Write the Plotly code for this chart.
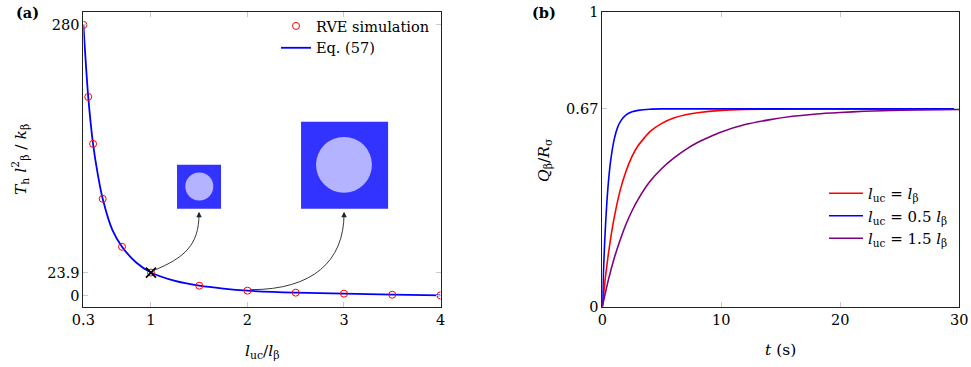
import plotly.graph_objects as go

# ---------------- data ----------------
# Panel (a)
rve_x = [0.3, 0.35, 0.4, 0.5, 0.7, 1.0, 1.5, 2.0, 2.5, 3.0, 3.5, 4.0]
rve_y = [280, 205.6, 157, 100.2, 50.6, 23.9, 10.3, 5.2, 3.1, 2.1, 1.0, 0.3]
eq_x = [0.3, 0.35, 0.4, 0.45, 0.5, 0.6, 0.7, 0.85, 1.0, 1.25, 1.5, 1.75, 2.0, 2.5, 3.0, 3.5, 4.0]
eq_y = [280, 205.6, 157, 125, 100.2, 68, 50.6, 34, 23.9, 15.2, 10.3, 7.3, 5.2, 3.1, 2.1, 1.0, 0.3]
mark_x = [1.0]
mark_y = [23.9]
a_xticks = [0.3, 1, 2, 3, 4]
a_yticks = [0, 23.9, 280]

# Panel (b)
t_blue = [0, 0.1, 0.2, 0.3, 0.4, 0.5, 0.7, 1.0, 1.3, 1.6, 2.0, 2.5, 3.0, 4.0, 5.0, 10, 20, 30]
q_blue = [0, 0.121, 0.219, 0.298, 0.363, 0.416, 0.494, 0.567, 0.609, 0.632, 0.650, 0.660,
          0.665, 0.669, 0.67, 0.67, 0.67, 0.67]
t_red = [0, 0.25, 0.5, 0.75, 1.0, 1.5, 2.0, 2.5, 3.0, 4.0, 5.0, 6.0, 7.0, 8.0, 10, 12, 15, 20, 30]
q_red = [0, 0.096, 0.176, 0.244, 0.302, 0.394, 0.460, 0.509, 0.545, 0.593, 0.621, 0.639, 0.650,
         0.657, 0.665, 0.668, 0.669, 0.67, 0.67]
t_pur = [0, 0.5, 1.0, 1.5, 2.0, 2.5, 3.0, 4.0, 5.0, 6.0, 7.0, 8.0, 9.0, 10, 12, 14, 16, 18, 20,
         22, 25, 30]
q_pur = [0, 0.089, 0.164, 0.226, 0.280, 0.325, 0.363, 0.424, 0.468, 0.503, 0.532, 0.556, 0.575,
         0.592, 0.617, 0.633, 0.645, 0.653, 0.658, 0.662, 0.6655, 0.668]
b_xticks = [0, 10, 20, 30]
b_yticks = [0, 0.67, 1]

FONT = "DejaVu Serif"
FS = 14.5

fig = go.Figure()

fig.add_trace(go.Scatter(x=eq_x, y=eq_y, mode="lines", name="Eq. (57)",
                         line=dict(color="#0000ff", width=1.8, shape="spline", smoothing=0.8),
                         xaxis="x", yaxis="y", legend="legend", legendrank=2))
fig.add_trace(go.Scatter(x=rve_x, y=rve_y, mode="markers", name="RVE simulation",
                         marker=dict(symbol="circle-open", color="#ff0000", size=7, line=dict(width=1)),
                         xaxis="x", yaxis="y", legend="legend", legendrank=1))
fig.add_trace(go.Scatter(x=mark_x, y=mark_y, mode="markers", showlegend=False,
                         marker=dict(symbol="x-thin", color="black", size=10, line=dict(width=1.8, color="black")),
                         xaxis="x", yaxis="y"))

fig.add_trace(go.Scatter(x=t_red, y=q_red, mode="lines",
                         name="<i>l</i><sub>uc</sub> = <i>l</i><sub>β</sub>",
                         line=dict(color="#ff0000", width=1.6, shape="spline", smoothing=0.5),
                         xaxis="x2", yaxis="y2", legend="legend2"))
fig.add_trace(go.Scatter(x=t_blue, y=q_blue, mode="lines",
                         name="<i>l</i><sub>uc</sub> = 0.5 <i>l</i><sub>β</sub>",
                         line=dict(color="#0000ff", width=1.6, shape="spline", smoothing=0.5),
                         xaxis="x2", yaxis="y2", legend="legend2"))
fig.add_trace(go.Scatter(x=t_pur, y=q_pur, mode="lines",
                         name="<i>l</i><sub>uc</sub> = 1.5 <i>l</i><sub>β</sub>",
                         line=dict(color="#800080", width=1.6, shape="spline", smoothing=0.5),
                         xaxis="x2", yaxis="y2", legend="legend2"))

ax_common = dict(showline=True, linecolor="#222222", linewidth=1, mirror="ticks",
                 ticks="inside", ticklen=5, tickcolor="#c8c8c8", tickwidth=1,
                 showgrid=False, zeroline=False, automargin=False,
                 tickfont=dict(family=FONT, size=FS, color="black"))

ydom = [1 - 306.7 / 367, 1 - 11.5 / 367]
fig.update_layout(
    width=971, height=367, margin=dict(l=0, r=0, t=0, b=0),
    paper_bgcolor="white", plot_bgcolor="white",
    font=dict(family=FONT, size=FS, color="black"),
    xaxis=dict(domain=[83.4 / 971, 440.5 / 971], range=[0.3, 4], tickvals=a_xticks,
               ticktext=["0.3", "1", "2", "3", "4"], **ax_common),
    yaxis=dict(domain=ydom, range=[-11.4, 293.9], tickvals=a_yticks,
               ticktext=["0", "23.9", "280"], anchor="x", **ax_common),
    xaxis2=dict(domain=[602.3 / 971, 959.3 / 971], range=[0, 30], tickvals=b_xticks,
                anchor="y2", **ax_common),
    yaxis2=dict(domain=ydom, range=[0, 1], tickvals=b_yticks, ticktext=["0", "0.67", "1"],
                anchor="x2", **ax_common),
    legend=dict(x=276 / 971, y=1 - 10 / 367, xanchor="left", yanchor="top",
                bgcolor="rgba(0,0,0,0)", borderwidth=0, itemwidth=30,
                font=dict(family=FONT, size=FS), tracegroupgap=0),
    legend2=dict(x=824 / 971, y=1 - 177 / 367, xanchor="left", yanchor="top",
                 bgcolor="rgba(0,0,0,0)", borderwidth=0, itemwidth=34,
                 font=dict(family=FONT, size=FS + 0.5), tracegroupgap=0),
)

# inset squares with inclusions
shapes = []
shapes.append(dict(type="rect", xref="x", yref="y", x0=1.27, x1=1.726, y0=89.9, y1=135.3,
                   fillcolor="#3333ff", line=dict(width=0), layer="below"))
shapes.append(dict(type="circle", xref="x", yref="y", x0=1.501 - 0.145, x1=1.501 + 0.145,
                   y0=112.9 - 14.46, y1=112.9 + 14.46, fillcolor="#b3b3ff", line=dict(width=0), layer="below"))
shapes.append(dict(type="rect", xref="x", yref="y", x0=2.555, x1=3.457, y0=89.9, y1=179.8,
                   fillcolor="#3333ff", line=dict(width=0), layer="below"))
shapes.append(dict(type="circle", xref="x", yref="y", x0=3.0 - 0.29, x1=3.0 + 0.29,
                   y0=135.3 - 28.9, y1=135.3 + 28.9, fillcolor="#b3b3ff", line=dict(width=0), layer="below"))

# curved arrows (in data coordinates of panel a)
def px2d(px, py):
    return 0.3 + (px - 83.4) / 96.5, (296 - py) / 0.968

p0 = px2d(153, 271); c1 = px2d(185, 258); c2 = px2d(199, 245); p3 = px2d(199, 214)
shapes.append(dict(type="path", xref="x", yref="y",
                   path=f"M {p0[0]},{p0[1]} C {c1[0]},{c1[1]} {c2[0]},{c2[1]} {p3[0]},{p3[1]}",
                   line=dict(color="#222222", width=0.9)))
p0 = px2d(251, 290); c1 = px2d(312, 290); c2 = px2d(344, 262); p3 = px2d(344, 214)
shapes.append(dict(type="path", xref="x", yref="y",
                   path=f"M {p0[0]},{p0[1]} C {c1[0]},{c1[1]} {c2[0]},{c2[1]} {p3[0]},{p3[1]}",
                   line=dict(color="#222222", width=0.9)))
fig.update_layout(shapes=shapes)

ann = []
for hx in [199, 344]:
    hd = px2d(hx, 212)
    ann.append(dict(x=hd[0], y=hd[1], xref="x", yref="y", ax=0, ay=6, axref="pixel", ayref="pixel",
                    text="", showarrow=True, arrowhead=2, arrowsize=1.2, arrowwidth=0.9,
                    arrowcolor="#222222"))

ann.append(dict(text="<b>(a)</b>", x=14 / 971, y=1 - 12 / 367, xref="paper", yref="paper",
                xanchor="left", yanchor="middle", showarrow=False, font=dict(size=FS)))
ann.append(dict(text="<b>(b)</b>", x=530 / 971, y=1 - 12 / 367, xref="paper", yref="paper",
                xanchor="left", yanchor="middle", showarrow=False, font=dict(size=FS)))
ann.append(dict(text="<i>l</i><sub>uc</sub>/<i>l</i><sub>β</sub>", x=262 / 971, y=1 - 352 / 367,
                xref="paper", yref="paper", xanchor="center", yanchor="middle", showarrow=False,
                font=dict(size=FS + 1)))
ann.append(dict(text="<i>t</i> (s)", x=780 / 971, y=1 - 350 / 367,
                xref="paper", yref="paper", xanchor="center", yanchor="middle", showarrow=False,
                font=dict(size=FS + 1)))
ann.append(dict(text="<i>T</i><sub>h</sub> <i>l</i><sup>2</sup><sub>β</sub> / <i>k</i><sub>β</sub>",
                x=20 / 971, y=1 - 160 / 367, xref="paper", yref="paper", xanchor="center",
                yanchor="middle", textangle=-90, showarrow=False, font=dict(size=FS + 1)))
ann.append(dict(text="<i>Q</i><sub>β</sub>/<i>R</i><sub>σ</sub>",
                x=545 / 971, y=1 - 160 / 367, xref="paper", yref="paper", xanchor="center",
                yanchor="middle", textangle=-90, showarrow=False, font=dict(size=FS + 1)))
fig.update_layout(annotations=ann)

fig.write_html("out.html")
